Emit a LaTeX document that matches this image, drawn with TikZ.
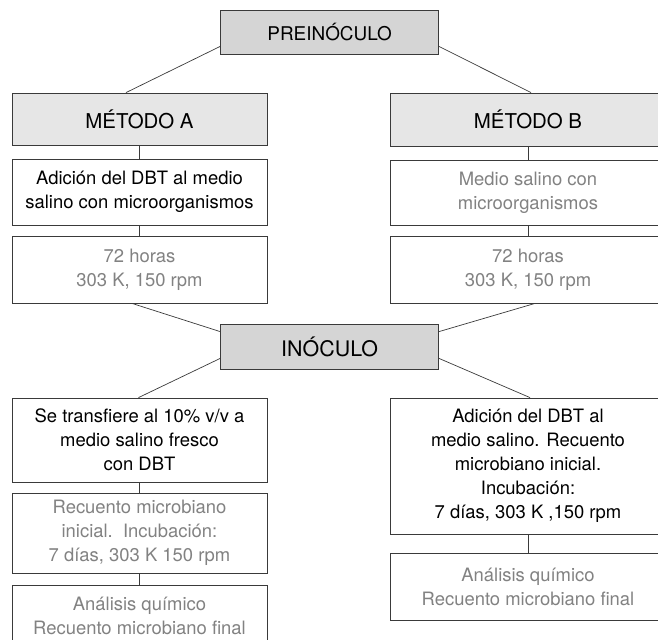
\documentclass[tikz,border=0pt]{standalone}
\usepackage{fontspec}
\setmainfont{TeX Gyre Heros}
\usepackage{tikz}

\definecolor{hdrfill}{HTML}{D5D5D5}
\definecolor{metfill}{HTML}{E6E6E6}
\definecolor{lite}{HTML}{828282}
\definecolor{rule}{HTML}{3A3A3A}

\begin{document}
\begin{tikzpicture}[x={(1bp,0)},y={(0,-1bp)},
  every node/.style={font=\fontsize{18.5}{24}\selectfont,align=center,inner sep=0pt},
  hdr/.style={draw=rule,fill=hdrfill,line width=0.8bp,minimum width=218bp,minimum height=44bp},
  met/.style={draw=rule,fill=metfill,line width=0.8bp,minimum height=52bp,font=\fontsize{20.5}{24}\selectfont},
  stepbox/.style={draw=rule,fill=white,line width=0.8bp},
  litebox/.style={stepbox,text=lite},
  link/.style={draw=rule,line width=0.7bp}]
\useasboundingbox (0,0) rectangle (658,640);
\clip (0,0) rectangle (658,640);
% cabeceras
\node[hdr,font=\fontsize{19}{24}\selectfont] (pre) at (329.6,32) {PREINÓCULO};
\node[hdr,minimum height=45bp,font=\fontsize{21.5}{24}\selectfont] (ino) at (329.6,346.5) {INÓCULO};
% metodo A
\node[met,minimum width=255bp] (ma) at (139.5,119) {\raisebox{-3bp}{MÉTODO A}};
\node[stepbox,minimum width=255bp,minimum height=66bp] (a1) at (139.5,192) {Adición del DBT al medio\\salino con microorganismos};
\node[litebox,minimum width=255bp,minimum height=67bp] (a2) at (139.5,269.5) {72 horas\\303 K, 150 rpm};
% metodo B
\node[met,minimum width=276bp,minimum height=53bp] (mb) at (528,119.5) {\raisebox{-5bp}{MÉTODO B}};
\node[litebox,minimum width=276bp,minimum height=65bp] (b1) at (528,192.5) {Medio salino con\\microorganismos};
\node[litebox,minimum width=276bp,minimum height=67bp] (b2) at (528,269.5) {72 horas\\303 K, 150 rpm};
% despues del inoculo
\node[stepbox,minimum width=255bp,minimum height=84bp] (a3) at (139.5,440) {Se transfiere al 10\% v/v a\\medio salino fresco\\con DBT};
\node[litebox,minimum width=255bp,minimum height=80bp] (a4) at (139.5,533) {Recuento microbiano\\inicial.\ \ Incubación:\\7 días, 303 K 150 rpm};
\node[litebox,minimum width=255bp,minimum height=62bp] (a5) at (139.5,616) {Análisis químico\\Recuento microbiano final};
\node[stepbox,minimum width=276bp,minimum height=136bp] (b3) at (528,466) {Adición del DBT al\\medio salino. Recuento\\microbiano inicial.\\Incubación:\\7 días, 303 K ,150 rpm};
\node[litebox,minimum width=276bp,minimum height=67bp] (b4) at (528,586.5) {Análisis químico\\Recuento microbiano final};
% conectores
\draw[link] ([yshift=8bp]pre.south west) -- ([xshift=-13.5bp]ma.north);
\draw[link] ([yshift=8bp]pre.south east) -- ([xshift=3bp]mb.north);
\draw[link] (ma.south) -- (a1.north);
\draw[link] (a1.south) -- (a2.north);
\draw[link] (mb.south) -- (b1.north);
\draw[link] (b1.south) -- (b2.north);
\draw[link] ([xshift=-7.5bp]a2.south) -- ([yshift=-8bp]ino.north west);
\draw[link] ([xshift=7bp]b2.south) -- ([yshift=-8bp]ino.north east);
\draw[link] ([yshift=11bp]ino.south west) -- ([xshift=-1bp]a3.north);
\draw[link] ([yshift=11bp]ino.south east) -- ([xshift=2bp]b3.north);
\draw[link] (a3.south) -- (a4.north);
\draw[link] (a4.south) -- (a5.north);
\draw[link] (b3.south) -- (b4.north);
\end{tikzpicture}
\end{document}
